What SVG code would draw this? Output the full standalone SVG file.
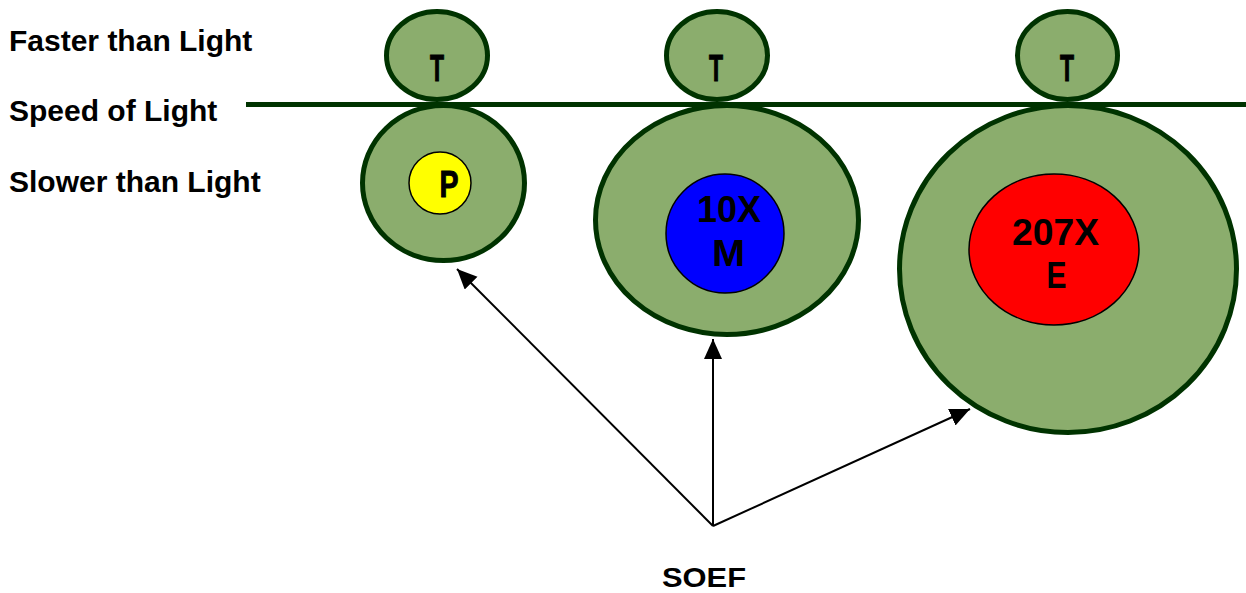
<svg xmlns="http://www.w3.org/2000/svg" width="1246" height="593" viewBox="0 0 1246 593">
  <defs>
    <style>
      .shell { fill: #8bad6d; stroke: #003300; stroke-width: 5; }
      .core { stroke: #000000; stroke-width: 1.5; }
      .lbl { font-family: "Liberation Sans", Arial, sans-serif; font-weight: bold; fill: #000000; }
      .side { font-size: 30px; }
      .in { font-size: 36px; text-anchor: middle; }
      .thick { stroke: #000000; stroke-width: 1; }
      .conn { stroke: #000000; stroke-width: 2; fill: none; marker-end: url(#arrow); }
    </style>
    <marker id="arrow" markerUnits="userSpaceOnUse" markerWidth="22" markerHeight="20" refX="20" refY="9" orient="auto">
      <path d="M0,0 L20,9 L0,18 Z" fill="#000000"/>
    </marker>
  </defs>
  <rect x="0" y="0" width="1246" height="593" fill="#ffffff"/>

  <g id="labels">
    <text class="lbl side" x="9" y="51">Faster than Light</text>
    <text class="lbl side" x="9" y="121">Speed of Light</text>
    <text class="lbl side" x="9" y="192">Slower than Light</text>
  </g>

  <g id="node-p">
    <ellipse class="shell" cx="437" cy="55.5" rx="50.5" ry="44"/>
    <text class="lbl in thick" x="437" y="81" textLength="14" lengthAdjust="spacingAndGlyphs">T</text>
    <ellipse class="shell" cx="443.5" cy="183" rx="81" ry="77.5"/>
    <circle class="core" cx="440" cy="183" r="31" fill="#ffff00"/>
    <text class="lbl in thick" x="449" y="197" font-size="34" textLength="19" lengthAdjust="spacingAndGlyphs">P</text>
  </g>

  <g id="node-m">
    <ellipse class="shell" cx="717" cy="55.5" rx="50.5" ry="44"/>
    <text class="lbl in thick" x="716" y="81" textLength="14" lengthAdjust="spacingAndGlyphs">T</text>
    <ellipse class="shell" cx="727" cy="220" rx="131.5" ry="114.5"/>
    <ellipse class="core" cx="725" cy="233.5" rx="59" ry="59.5" fill="#0000ff"/>
    <text class="lbl in" x="729" y="222" textLength="64" lengthAdjust="spacingAndGlyphs">10X</text>
    <text class="lbl in" x="728.5" y="266" textLength="33" lengthAdjust="spacingAndGlyphs">M</text>
  </g>

  <g id="node-e">
    <ellipse class="shell" cx="1067.5" cy="55.5" rx="50" ry="44"/>
    <text class="lbl in thick" x="1067" y="81" textLength="14" lengthAdjust="spacingAndGlyphs">T</text>
    <ellipse class="shell" cx="1068" cy="269" rx="168.5" ry="163.5"/>
    <ellipse class="core" cx="1054" cy="249.5" rx="85" ry="75.5" fill="#ff0000"/>
    <text class="lbl in" x="1055.5" y="245" textLength="87" lengthAdjust="spacingAndGlyphs">207X</text>
    <text class="lbl in" x="1056.5" y="288" textLength="20" lengthAdjust="spacingAndGlyphs">E</text>
  </g>

  <g id="speed-line">
    <line x1="246" y1="104.5" x2="1246" y2="104.5" stroke="#003300" stroke-width="5"/>
  </g>

  <g id="connectors">
    <line class="conn" x1="713" y1="526" x2="457" y2="269"/>
    <line class="conn" x1="713" y1="526" x2="713" y2="339"/>
    <line class="conn" x1="713" y1="526" x2="970" y2="409"/>
  </g>

  <g id="node-soef">
    <text class="lbl" x="704" y="587" font-size="28" text-anchor="middle" textLength="84" lengthAdjust="spacingAndGlyphs">SOEF</text>
  </g>
</svg>
